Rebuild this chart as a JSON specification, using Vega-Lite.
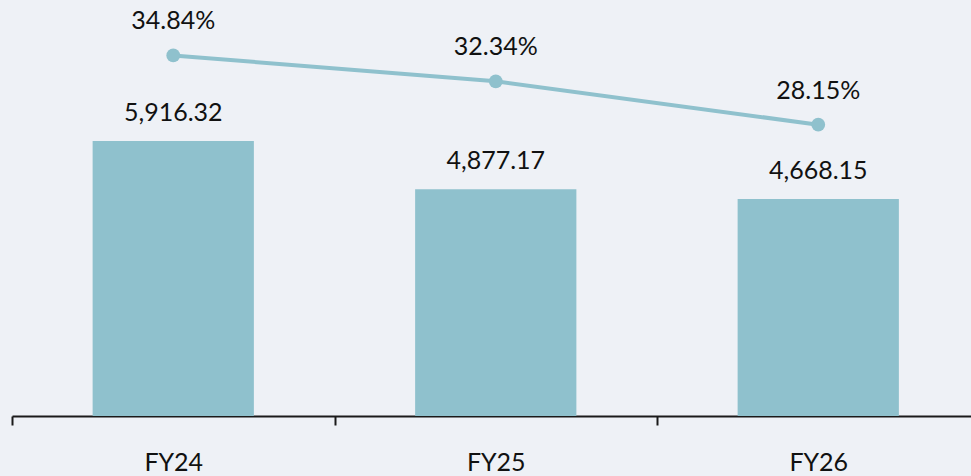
{
  "$schema": "https://vega.github.io/schema/vega-lite/v6.json",
  "width": 959,
  "height": 416,
  "autosize": {"type": "none"},
  "padding": {"left": 12, "top": 0, "right": 0, "bottom": 60},
  "background": "#eef1f6",
  "config": {"view": {"stroke": null}, "font": "Lato"},
  "data": {
    "values": [
      {"fy": "FY24", "revenue": 5916.32, "margin": 0.3484},
      {"fy": "FY25", "revenue": 4877.17, "margin": 0.3234},
      {"fy": "FY26", "revenue": 4668.15, "margin": 0.2815}
    ]
  },
  "encoding": {
    "x": {
      "field": "fy",
      "type": "nominal",
      "sort": null,
      "scale": {"paddingInner": 0, "paddingOuter": 0, "range": [0, 967.5]},
      "axis": {
        "title": null,
        "labelAngle": 0,
        "grid": false,
        "domain": true,
        "domainColor": "#1a1a1a",
        "domainWidth": 2,
        "ticks": true,
        "tickBand": "extent",
        "tickSize": 9,
        "tickWidth": 2,
        "tickColor": "#1a1a1a",
        "labelFontSize": 25,
        "labelColor": "#111111",
        "labelBaseline": "alphabetic",
        "labelPadding": 45,
        "labelFont": "Lato"
      }
    }
  },
  "layer": [
    {
      "encoding": {
        "y": {"field": "revenue", "type": "quantitative", "scale": {"domain": [0, 8950]}, "axis": null}
      },
      "layer": [
        {"mark": {"type": "bar", "width": {"band": 0.5}, "color": "#8fc1cd"}},
        {
          "mark": {"type": "text", "dy": -20, "baseline": "alphabetic", "fontSize": 25, "color": "#111111"},
          "encoding": {"text": {"field": "revenue", "type": "quantitative", "format": ",.2f"}}
        }
      ]
    },
    {
      "encoding": {
        "y": {"field": "margin", "type": "quantitative", "scale": {"domain": [0, 0.402]}, "axis": null}
      },
      "layer": [
        {"mark": {"type": "line", "color": "#8fc1cd", "strokeWidth": 4}},
        {"mark": {"type": "point", "filled": true, "opacity": 1, "size": 190, "color": "#8fc1cd"}},
        {
          "mark": {"type": "text", "dy": -26, "baseline": "alphabetic", "fontSize": 25, "color": "#111111"},
          "encoding": {"text": {"field": "margin", "type": "quantitative", "format": ".2%"}}
        }
      ]
    }
  ],
  "resolve": {"scale": {"y": "independent"}}
}
